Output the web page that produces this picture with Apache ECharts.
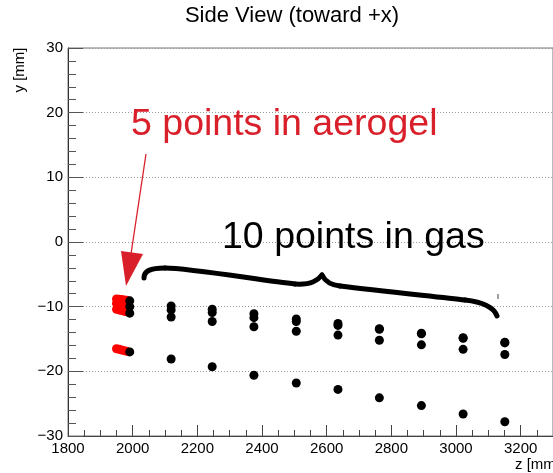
<!DOCTYPE html>
<html>
<head>
<meta charset="utf-8">
<script src="https://cdn.jsdelivr.net/npm/echarts@6/dist/echarts.min.js"></script>
<style>html,body{margin:0;padding:0;background:#fff}#c{width:553px;height:473px}</style>
</head>
<body>
<div id="c"></div>
<script>
// z positions (mm) of hits
const zAerogel = [1950, 1958, 1966, 1974, 1982];
const zGas = [1991, 2119, 2246, 2375, 2506, 2635, 2763, 2893, 3022, 3151];
// y positions (mm) per track
const yAerogelTrack1 = [-8.8, -8.85, -8.9, -8.95, -9.0];
const yAerogelTrack2 = [-9.5, -9.6, -9.7, -9.8, -9.9];
const yAerogelTrack3 = [-10.4, -10.5, -10.6, -10.7, -10.8];
const yAerogelTrack4 = [-16.5, -16.6, -16.7, -16.8, -16.9];
const yGasTrack1 = [-9.1, -9.9, -10.4, -11.1, -11.9, -12.6, -13.4, -14.1, -14.8, -15.5];
const yGasTrack2 = [-10.0, -10.5, -10.9, -11.7, -12.3, -12.9, -13.5, -14.2, -14.9, -15.6];
const yGasTrack3 = [-11.0, -11.6, -12.3, -13.1, -13.8, -14.4, -15.2, -15.9, -16.6, -17.4];
const yGasTrack4 = [-17.0, -18.1, -19.3, -20.6, -21.8, -22.8, -24.1, -25.3, -26.6, -27.8];

const zip = (zs, ys) => zs.map((z, i) => [z, ys[i]]);
const aerogelData = [yAerogelTrack1, yAerogelTrack2, yAerogelTrack3, yAerogelTrack4].flatMap(t => zip(zAerogel, t));
const gasData = [yGasTrack1, yGasTrack2, yGasTrack3, yGasTrack4].flatMap(t => zip(zGas, t));

const FONT = '"Liberation Sans", Arial, sans-serif';
const RED = '#d9202a';
const chart = echarts.init(document.getElementById('c'), null, {renderer: 'canvas'});
const brace = (x1, y1, cpx1, cpy1, cpx2, cpy2, x2, y2) => ({
  type: 'bezierCurve', z: 10,
  shape: {x1, y1, cpx1, cpy1, cpx2, cpy2, x2, y2},
  style: {stroke: '#000', lineWidth: 5, lineCap: 'round', fill: null}
});
chart.setOption({
  animation: false,
  backgroundColor: '#fff',
  grid: {left: 68, top: 48, width: 487, height: 388, show: true, borderColor: '#777', borderWidth: 1, backgroundColor: 'transparent'},
  xAxis: {
    type: 'value', min: 1800, max: 3300, interval: 200,
    axisLine: {show: true, onZero: false, lineStyle: {color: '#444', width: 1}},
    axisTick: {show: true, inside: true, length: 11, lineStyle: {color: '#444'}},
    minorTick: {show: true, splitNumber: 4, length: 6, lineStyle: {color: '#444'}},
    splitLine: {show: false},
    axisLabel: {color: '#000', fontSize: 15, fontFamily: FONT, margin: 5, showMaxLabel: false,
      formatter: v => String(v)}
  },
  yAxis: {
    type: 'value', min: -30, max: 30, interval: 10,
    axisLine: {show: true, onZero: false, lineStyle: {color: '#333', width: 1}},
    axisTick: {show: true, inside: true, length: 15, lineStyle: {color: '#555'}},
    minorTick: {show: true, splitNumber: 5, length: 8, lineStyle: {color: '#555'}},
    splitLine: {show: true, lineStyle: {color: '#999', type: [1, 2], width: 1}},
    axisLabel: {color: '#000', fontSize: 15, fontFamily: FONT, margin: 5,
      formatter: v => String(v).replace('-', '\u2212')}
  },
  series: [
    {type: 'scatter', data: aerogelData, symbol: 'circle', symbolSize: 9,
     itemStyle: {color: '#ff0000', opacity: 1}, z: 3},
    {type: 'scatter', data: gasData, symbol: 'circle', symbolSize: 9,
     itemStyle: {color: '#000000', opacity: 1}, z: 4}
  ],
  graphic: [
    {type: 'text', x: 292, y: 16, z: 10, style: {text: 'Side View (toward +x)', font: '22px ' + FONT, fill: '#000', align: 'center', verticalAlign: 'middle'}},
    {type: 'text', x: 20, y: 70, rotation: Math.PI / 2, z: 10, style: {text: 'y [mm]', font: '15px ' + FONT, fill: '#000', align: 'center', verticalAlign: 'middle'}},
    {type: 'text', x: 560, y: 465, z: 10, style: {text: 'z [mm]', font: '15px ' + FONT, fill: '#000', align: 'right', verticalAlign: 'middle'}},
    {type: 'text', x: 131, y: 125, z: 10, style: {text: '5 points in aerogel', font: '37.5px ' + FONT, fill: RED, align: 'left', verticalAlign: 'middle'}},
    {type: 'text', x: 222, y: 238, z: 10, style: {text: '10 points in gas', font: '37.5px ' + FONT, fill: '#000', align: 'left', verticalAlign: 'middle'}},
    {type: 'line', z: 10, shape: {x1: 146, y1: 154, x2: 131, y2: 254}, style: {stroke: RED, lineWidth: 1.3}},
    {type: 'polygon', z: 10, shape: {points: [[121, 251], [143, 254], [126, 286]]}, style: {fill: RED}},
    brace(144, 278, 144, 271, 150, 268, 165, 268),
    brace(165, 268, 190, 268, 265, 281, 295, 284),
    brace(295, 284, 312, 285, 318, 280, 322, 275),
    brace(322, 275, 325, 281, 330, 285, 340, 286),
    brace(340, 286, 380, 291, 440, 297, 465, 300),
    brace(465, 300, 484, 302, 494, 308, 497, 316),
    {type: 'line', z: 10, shape: {x1: 498, y1: 294, x2: 498, y2: 299}, style: {stroke: '#444', lineWidth: 1}}
  ]
});
</script>
</body>
</html>
